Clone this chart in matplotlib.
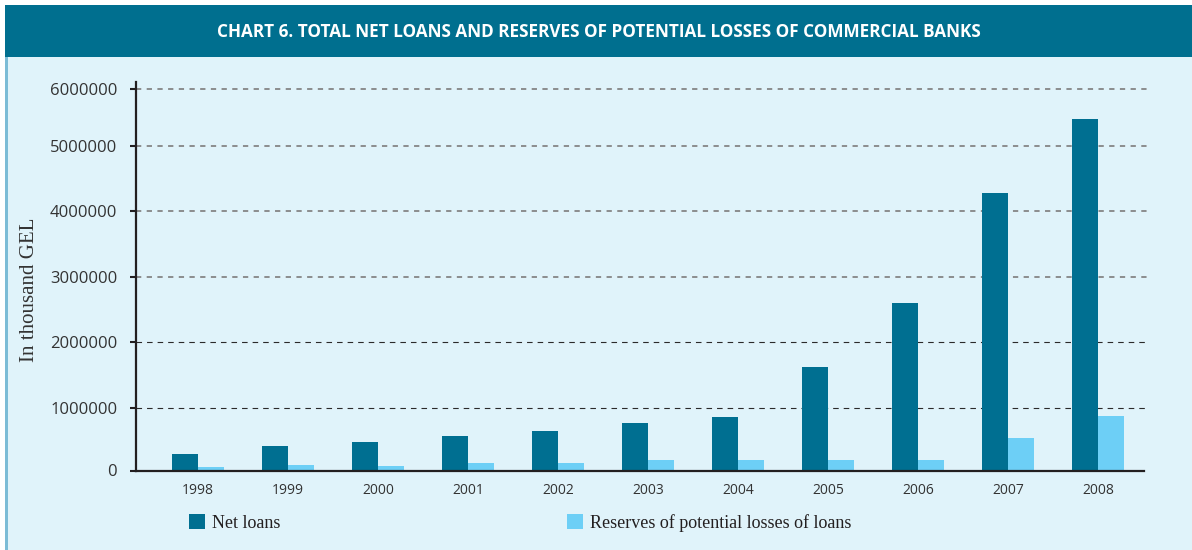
import numpy as np
import matplotlib
matplotlib.use("Agg")
import matplotlib.pyplot as plt
from matplotlib.patches import Rectangle, Patch

# ---------------- data ----------------
years = ["1998", "1999", "2000", "2001", "2002", "2003", "2004", "2005", "2006", "2007", "2008"]
net_loans = [264000, 392000, 456000, 552000, 632000, 760000, 856000, 1610000, 2600000, 4280000, 5470000]
reserves = [56000, 88000, 72000, 120000, 120000, 168000, 168000, 168000, 168000, 520000, 872000]
y_ticks = [0, 1000000, 2000000, 3000000, 4000000, 5000000, 6000000]
title = "CHART 6. TOTAL NET LOANS AND RESERVES OF POTENTIAL LOSSES OF COMMERCIAL BANKS"
y_label = "In thousand GEL"
series_names = ["Net loans", "Reserves of potential losses of loans"]

# ---------------- style ----------------
W, H = 1192, 550
DARK = "#006f91"
LIGHT = "#6dcff6"
BANNER = "#006f8f"
BODY = "#e0f3fa"
STRIPE = "#7cbcd6"
INK = "#231f20"
TXT = "#333333"

plt.rcParams["lines.scale_dashes"] = False

fig = plt.figure(figsize=(W / 100, H / 100), dpi=100, facecolor="white")

def px(x0, y0, w, h):
    """pixel box (top-left origin) -> figure fraction rect"""
    return (x0 / W, 1 - (y0 + h) / H, w / W, h / H)

# background panels
for (x0, y0, w, h), col in [((7, 57, W - 7, H - 57), BODY),
                            ((5, 57, 2.5, H - 57), STRIPE),
                            ((5, 5, W - 5, 52), BANNER)]:
    l, b, ww, hh = px(x0, y0, w, h)
    fig.patches.append(Rectangle((l, b), ww, hh, transform=fig.transFigure,
                                 facecolor=col, edgecolor="none", zorder=-10))

fig.text(599 / W, 1 - 32 / H, title, color="white", fontsize=12.3,
         fontweight="bold", family="Open Sans", ha="center", va="center")

# ---------------- axes ----------------
ax_left, ax_right, ax_bottom, ax_top = 136, 1144, 470.5, 82
ax = fig.add_axes([ax_left / W, 1 - ax_bottom / H, (ax_right - ax_left) / W,
                   (ax_bottom - ax_top) / H])
ax.set_facecolor("none")

# piecewise scale reproducing the uneven tick spacing of the original
tick_pix = np.array([470.5, 408, 341.5, 277, 211, 146, 89])
TV = np.array(y_ticks, dtype=float)
TP = ax_bottom - tick_pix

def fwd(v):
    v = np.asarray(v, dtype=float)
    out = np.interp(v, TV, TP)
    s0 = (TP[1] - TP[0]) / (TV[1] - TV[0])
    s1 = (TP[-1] - TP[-2]) / (TV[-1] - TV[-2])
    out = np.where(v < TV[0], TP[0] + (v - TV[0]) * s0, out)
    out = np.where(v > TV[-1], TP[-1] + (v - TV[-1]) * s1, out)
    return out

def inv(p):
    p = np.asarray(p, dtype=float)
    out = np.interp(p, TP, TV)
    s0 = (TV[1] - TV[0]) / (TP[1] - TP[0])
    s1 = (TV[-1] - TV[-2]) / (TP[-1] - TP[-2])
    out = np.where(p < TP[0], TV[0] + (p - TP[0]) * s0, out)
    out = np.where(p > TP[-1], TV[-1] + (p - TP[-1]) * s1, out)
    return out

ax.set_yscale("function", functions=(fwd, inv))
ax.set_ylim(0, float(inv(ax_bottom - ax_top)))

group_px = 90.0
first_px = 198.0
ax.set_xlim((ax_left - first_px) / group_px, (ax_right - first_px) / group_px)

x = np.arange(len(years))
bw = 26 / group_px
ax.bar(x - bw / 2, net_loans, width=bw, color=DARK, zorder=3, label=series_names[0])
ax.bar(x + bw / 2, reserves, width=bw, color=LIGHT, zorder=3, label=series_names[1])

# dashed gridlines
grid_xmax = (1147 - first_px) / group_px
for v in y_ticks[1:]:
    if v <= 2000000:
        ax.hlines(v, ax.get_xlim()[0], grid_xmax, colors="#2a2a2a", linewidth=0.8,
                  linestyles=(0, (4.0, 3.6)), zorder=1, clip_on=False)
    else:
        ax.hlines(v, ax.get_xlim()[0], grid_xmax, colors="#858585", linewidth=1.3,
                  linestyles=(0, (3.8, 3.9)), zorder=1, clip_on=False)

for s in ["top", "right"]:
    ax.spines[s].set_visible(False)
for s in ["left", "bottom"]:
    ax.spines[s].set_color(INK)
    ax.spines[s].set_linewidth(1.6)
    ax.spines[s].set_zorder(4)

ax.set_yticks(y_ticks)
ax.set_yticklabels([str(v) for v in y_ticks])
ax.tick_params(axis="y", direction="out", length=4.5, width=1.5, color=INK,
               labelsize=12, labelcolor=TXT, pad=9)
ax.set_xticks(x)
ax.set_xticklabels(years)
ax.tick_params(axis="x", length=0, labelsize=10, labelcolor=TXT, pad=9)
for lab in ax.get_yticklabels() + ax.get_xticklabels():
    lab.set_family("Open Sans")

fig.text(30 / W, 1 - 290 / H, y_label, rotation=90, ha="center", va="center",
         fontsize=15, family="Liberation Serif", color=TXT)

# legend (two entries placed like the original)
fs = 13
for name, col, xpx in [(series_names[0], DARK, 189), (series_names[1], LIGHT, 567)]:
    fig.legend(handles=[Patch(facecolor=col, edgecolor="none", label=name)],
               loc="center left", bbox_to_anchor=(xpx / W, 1 - 523 / H),
               frameon=False, borderpad=0, borderaxespad=0,
               handlelength=0.88, handleheight=0.88, handletextpad=0.4,
               prop={"family": "Liberation Serif", "size": fs}, labelcolor=INK)

fig.savefig("out.png", dpi=100, facecolor="white")
